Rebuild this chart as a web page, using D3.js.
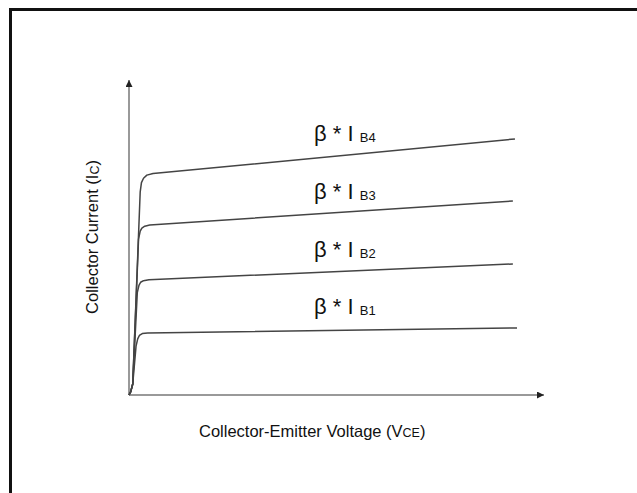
<!DOCTYPE html>
<html>
<head>
<meta charset="utf-8">
<script src="https://cdn.jsdelivr.net/npm/d3@7"></script>
<style>
html,body{margin:0;padding:0;background:#fff;}
svg{display:block;}
text{font-family:Arial,"Liberation Sans",sans-serif;fill:#111;}
</style>
</head>
<body>
<script>
// Curve names and labels
const seriesNames = ["IB1", "IB2", "IB3", "IB4"];
const labelSubscripts = ["B1", "B2", "B3", "B4"];
// Vce / Ic values (relative units, 0..100 = axis length)
const vceIB1 = [0, 0.4, 0.9, 1.7, 2.1, 2.5, 3.2, 4.5, 93.5];
const icIB1  = [0, 1.0, 3.5, 15.5, 17.8, 18.9, 19.5, 19.7, 21.3];
const vceIB2 = [0, 0.4, 0.9, 2.0, 2.4, 2.8, 3.5, 4.8, 92.5];
const icIB2  = [0, 1.0, 3.5, 32.5, 34.8, 35.8, 36.3, 36.6, 41.6];
const vceIB3 = [0, 0.4, 0.9, 2.3, 2.7, 3.1, 3.8, 5.0, 92.5];
const icIB3  = [0, 1.0, 3.5, 49.5, 52.0, 53.0, 53.6, 54.0, 61.6];
const vceIB4 = [0, 0.4, 0.9, 2.7, 3.0, 3.5, 4.3, 5.8, 93.0];
const icIB4  = [0, 1.0, 3.5, 64.5, 67.4, 68.8, 69.8, 70.3, 81.3];
// label anchor (vce, ic) of each "β * I" label
const labelVce = [44.6, 44.6, 44.6, 44.6];
const labelIc  = [25.7, 43.8, 62.2, 80.6];

const xAxisTitle = "Collector-Emitter Voltage (V";
const xAxisSub = "CE";
const yAxisTitle = "Collector Current (I";
const yAxisSub = "C";

const W = 637, H = 493;
const svg = d3.select("body").append("svg").attr("width", W).attr("height", H);

// frame (extends past right/bottom edges)
svg.append("rect").attr("x", 10.5).attr("y", 9.5).attr("width", 700).attr("height", 600)
  .attr("fill", "none").attr("stroke", "#111").attr("stroke-width", 3);

const x = d3.scaleLinear().domain([0, 100]).range([129, 544]);
const y = d3.scaleLinear().domain([0, 100]).range([395, 80]);

// axes
const defs = svg.append("defs");
defs.append("marker").attr("id", "arr").attr("viewBox", "0 0 10 10")
  .attr("refX", 10).attr("refY", 5).attr("markerWidth", 7).attr("markerHeight", 7)
  .attr("markerUnits", "userSpaceOnUse").attr("orient", "auto")
  .append("path").attr("d", "M0,0L10,5L0,10Z").attr("fill", "#222");

svg.append("line").attr("x1", x(0)).attr("y1", y(0)).attr("x2", x(100)).attr("y2", y(0))
  .attr("stroke", "#777").attr("stroke-width", 1.5).attr("marker-end", "url(#arr)");
svg.append("line").attr("x1", x(0)).attr("y1", y(0)).attr("x2", x(0)).attr("y2", y(100))
  .attr("stroke", "#777").attr("stroke-width", 1.5).attr("marker-end", "url(#arr)");

const curves = [
  d3.zip(vceIB1, icIB1), d3.zip(vceIB2, icIB2), d3.zip(vceIB3, icIB3), d3.zip(vceIB4, icIB4)
];
const line = d3.line().x(d => x(d[0])).y(d => y(d[1])).curve(d3.curveLinear);
svg.append("g").selectAll("path").data(curves).join("path")
  .attr("d", line).attr("fill", "none").attr("stroke", "#444").attr("stroke-width", 1.5)
  .attr("stroke-linejoin", "round");

// labels
const lg = svg.append("g");
labelSubscripts.forEach((s, i) => {
  const t = lg.append("text").attr("x", x(labelVce[i])).attr("y", y(labelIc[i]))
    .attr("font-size", 22);
  t.append("tspan").text("β * I ");
  t.append("tspan").attr("font-size", 13).attr("dy", 1).text(s);
});

// x axis title
const xt = svg.append("text").attr("x", 199).attr("y", 437).attr("font-size", 16.5);
xt.append("tspan").text(xAxisTitle);
xt.append("tspan").attr("font-size", 12.5).text(xAxisSub);
xt.append("tspan").text(")");

// y axis title
const yt = svg.append("text").attr("transform", "translate(98,237) rotate(-90)")
  .attr("text-anchor", "middle").attr("font-size", 16.5);
yt.append("tspan").text(yAxisTitle);
yt.append("tspan").attr("font-size", 12.5).attr("dy", 1).text(yAxisSub);
yt.append("tspan").attr("dy", -1).text(")");
</script>
</body>
</html>
